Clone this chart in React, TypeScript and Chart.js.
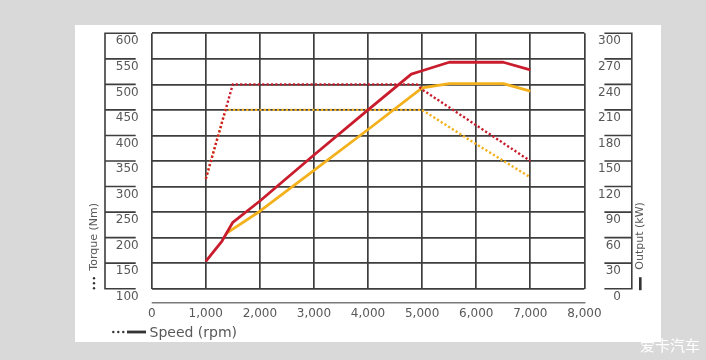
import React, { useEffect, useRef } from "react";
import { Chart, registerables } from "chart.js";

Chart.register(...registerables);

// ---- data ----
const torqueRedRpm = [1000, 1500, 4900, 5000, 6000, 7000];
const torqueRedNm = [315, 500, 500, 490, 420, 350];
const torqueYellowRpm = [1000, 1365, 5000, 6000, 7000];
const torqueYellowNm = [315, 450, 450, 383, 318];
const powerRedRpm = [1000, 1300, 1500, 2000, 3000, 4000, 4800, 5000, 5500, 6500, 7000];
const powerRedKw = [32, 56, 78, 103, 157, 210, 252, 256, 266, 266, 257];
const powerYellowRpm = [1380, 2000, 3000, 4000, 5000, 5500, 6500, 7000];
const powerYellowKw = [65, 91, 139, 187, 236, 241, 241, 232];

const rpmRange = [0, 8000, 1000];
const torqueRange = [100, 600, 50];
const outputRange = [0, 300, 30];

const torqueTitle = "Torque (Nm)";
const outputTitle = "Output (kW)";
const speedTitle = "Speed (rpm)";
const watermark = "爱卡汽车";

// ---- style ----
const RED = "#c91d2d";
const GOLD = "#f3b11c";
const GRID = "#3e3e3e";
const TEXT = "#585858";
const FONT = "'DejaVu Sans', sans-serif";

const pts = (xs: number[], ys: number[]) => xs.map((x, i) => ({ x, y: ys[i] }));

const decor = {
  id: "decor",
  afterDraw(chart: any) {
    const { ctx, chartArea: a, scales } = chart;
    const y = scales.y;
    const y1 = scales.y1;
    ctx.save();
    ctx.strokeStyle = GRID;
    ctx.lineWidth = 1.6;
    ctx.beginPath();
    // left frame
    const lx = a.left - 46.7;
    const lEnd = a.left - 16;
    ctx.moveTo(lx, a.top - 0.8);
    ctx.lineTo(lx, a.bottom + 0.8);
    y.ticks.forEach((t: any) => {
      const py = y.getPixelForValue(t.value);
      ctx.moveTo(lx, py);
      ctx.lineTo(lEnd, py);
    });
    // right frame
    const rx = a.right + 47.4;
    const rStart = a.right + 20;
    ctx.moveTo(rx, a.top - 0.8);
    ctx.lineTo(rx, a.bottom + 0.8);
    y1.ticks.forEach((t: any) => {
      const py = y1.getPixelForValue(t.value);
      ctx.moveTo(rStart, py);
      ctx.lineTo(rx, py);
    });
    ctx.stroke();

    // separate x axis line
    ctx.strokeStyle = "#7a7a7a";
    ctx.lineWidth = 1.4;
    ctx.beginPath();
    ctx.moveTo(a.left, a.bottom + 14);
    ctx.lineTo(a.right + 1, a.bottom + 14);
    ctx.stroke();

    // titles
    ctx.fillStyle = TEXT;
    ctx.font = `11px ${FONT}`;
    ctx.textBaseline = "middle";
    ctx.textAlign = "left";
    ctx.save();
    ctx.translate(a.left - 57.5, a.bottom - 18);
    ctx.rotate(-Math.PI / 2);
    ctx.fillText(torqueTitle, 0, 0);
    ctx.restore();
    ctx.save();
    ctx.translate(a.right + 55.6, a.bottom - 19);
    ctx.rotate(-Math.PI / 2);
    ctx.fillText(outputTitle, 0, 0);
    ctx.restore();

    ctx.fillStyle = "#333";
    // torque marker dots
    [278.3, 283.3, 288.3].forEach((dy) => {
      ctx.beginPath();
      ctx.arc(a.left - 57.7, dy, 1.2, 0, Math.PI * 2);
      ctx.fill();
    });
    // output marker bar
    ctx.fillRect(a.right + 54.6, a.bottom - 11.5, 2.6, 13);

    // speed legend
    [113.3, 118.3, 123.3].forEach((dx) => {
      ctx.beginPath();
      ctx.arc(dx, 332, 1.2, 0, Math.PI * 2);
      ctx.fill();
    });
    ctx.fillRect(127, 330.6, 19, 2.8);
    ctx.fillStyle = TEXT;
    ctx.font = `14px ${FONT}`;
    ctx.fillText(speedTitle, 149.5, 333);
    ctx.restore();
  },
};

export default function App() {
  const ref = useRef<HTMLCanvasElement>(null);

  useEffect(() => {
    const canvas = ref.current!;
    const dotted = {
      borderWidth: 2.4,
      borderDash: [2.2, 2.2],
      borderCapStyle: "butt",
      pointRadius: 0,
      tension: 0,
      fill: false,
    };
    const solid = {
      borderWidth: 2.8,
      pointRadius: 0,
      tension: 0,
      fill: false,
      borderJoinStyle: "round",
    };
    const chart = new Chart(canvas, {
      type: "line",
      data: {
        datasets: [
          { ...dotted, label: "Torque A", data: pts(torqueRedRpm, torqueRedNm), borderColor: RED, yAxisID: "y", order: 1 },
          { ...dotted, label: "Torque B", data: pts(torqueYellowRpm, torqueYellowNm), borderColor: GOLD, yAxisID: "y", order: 3 },
          { ...solid, label: "Output A", data: pts(powerRedRpm, powerRedKw), borderColor: RED, yAxisID: "y1", order: 0 },
          { ...solid, label: "Output B", data: pts(powerYellowRpm, powerYellowKw), borderColor: GOLD, yAxisID: "y1", order: 2 },
        ] as any,
      },
      options: {
        animation: false,
        responsive: false,
        maintainAspectRatio: false,
        devicePixelRatio: 1,
        layout: { padding: { left: 0, top: 33.3, right: 85, bottom: 0 } },
        plugins: { legend: { display: false }, tooltip: { enabled: false } },
        scales: {
          x: {
            type: "linear",
            min: rpmRange[0],
            max: rpmRange[1],
            afterFit: (s: any) => { s.height = 71.3; },
            ticks: {
              stepSize: rpmRange[2],
              padding: 18,
              color: TEXT,
              font: { family: FONT, size: 12 },
              callback: (v: any) => Number(v).toLocaleString("en-US"),
            },
            grid: { color: GRID, lineWidth: 1.7, drawTicks: false },
            border: { display: false },
          },
          y: {
            type: "linear",
            position: "left",
            min: torqueRange[0],
            max: torqueRange[1],
            afterFit: (s: any) => { s.width = 151.7; },
            ticks: {
              stepSize: torqueRange[2],
              padding: 13,
              labelOffset: 8,
              color: TEXT,
              font: { family: FONT, size: 12 },
            },
            grid: { color: GRID, lineWidth: 1.7, drawTicks: false },
            border: { display: false },
          },
          y1: {
            type: "linear",
            position: "right",
            min: outputRange[0],
            max: outputRange[1],
            afterFit: (s: any) => { s.width = 36.6; },
            ticks: {
              stepSize: outputRange[2],
              crossAlign: "far",
              labelOffset: 8,
              color: TEXT,
              font: { family: FONT, size: 12 },
            },
            grid: { display: false, drawTicks: false },
            border: { display: false },
          },
        },
      } as any,
      plugins: [decor],
    });
    return () => chart.destroy();
  }, []);

  return (
    <div style={{ position: "fixed", left: 0, top: 0, width: 706, height: 360, background: "#d9d9d9", overflow: "hidden" }}>
      <div style={{ position: "absolute", left: 75, top: 25, width: 586, height: 317, background: "#ffffff" }} />
      <canvas ref={ref} width={706} height={360} style={{ position: "absolute", left: 0, top: 0, width: 706, height: 360 }} />
      <div
        style={{
          position: "absolute",
          left: 640,
          top: 335,
          color: "#ffffff",
          fontFamily: "'Noto Sans CJK SC', sans-serif",
          fontSize: 15,
          lineHeight: "20px",
          whiteSpace: "nowrap",
        }}
      >
        {watermark}
      </div>
    </div>
  );
}
